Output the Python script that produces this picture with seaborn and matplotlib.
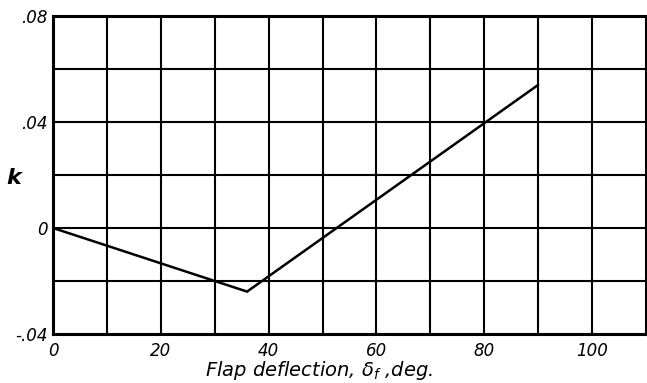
import matplotlib
matplotlib.use("Agg")
import matplotlib.pyplot as plt
import seaborn as sns
import pandas as pd
import numpy as np

# Data
flap_deflection = [0, 36, 90]
k_values = [0.0, -0.024, 0.054]

x_ticks = [0, 20, 40, 60, 80, 100]
x_tick_labels = ["0", "20", "40", "60", "80", "100"]
y_ticks = [-0.04, 0, 0.04, 0.08]
y_tick_labels = ["-.04", "0", ".04", ".08"]

sns.set_style("white")
plt.rcParams['font.family'] = ['DejaVu Sans']
plt.rcParams['text.color'] = 'black'
plt.rcParams['xtick.color'] = 'black'
plt.rcParams['ytick.color'] = 'black'
plt.rcParams['axes.labelcolor'] = 'black'

df = pd.DataFrame({"delta": flap_deflection, "k": k_values})

fig = plt.figure(figsize=(6.47, 3.83), dpi=100)
ax = fig.add_axes([53/647, 1 - 334/383, 593/647, 318/383])

sns.lineplot(data=df, x="delta", y="k", ax=ax, color="black", linewidth=1.8, zorder=3)

ax.set_xlim(0, 110)
ax.set_ylim(-0.04, 0.08)

for xv in np.arange(10, 110, 10):
    ax.axvline(xv, color="black", linewidth=1.5, zorder=1)
for yv in np.arange(-0.02, 0.08, 0.02):
    ax.axhline(yv, color="black", linewidth=1.5, zorder=1)

ax.set_xticks(x_ticks)
ax.set_xticklabels(x_tick_labels, fontsize=12, style="italic")
ax.set_yticks(y_ticks)
ax.set_yticklabels(y_tick_labels, fontsize=12, style="italic")
ax.tick_params(length=0)
ax.tick_params(axis="x", pad=6)
ax.tick_params(axis="y", pad=4)

for s in ax.spines.values():
    s.set_visible(True)
    s.set_color("black")
    s.set_linewidth(2.2)

ax.set_xlabel(r"Flap deflection, $\delta_f$ ,deg.", fontsize=14, style="italic")
ax.xaxis.set_label_coords(0.449, -0.08)
ax.set_ylabel("k", fontsize=16, style="italic", fontweight="bold", rotation=0, va="center", ha="center")
ax.yaxis.set_label_coords(-0.066, 0.49)

fig.savefig("out.png", dpi=100)
